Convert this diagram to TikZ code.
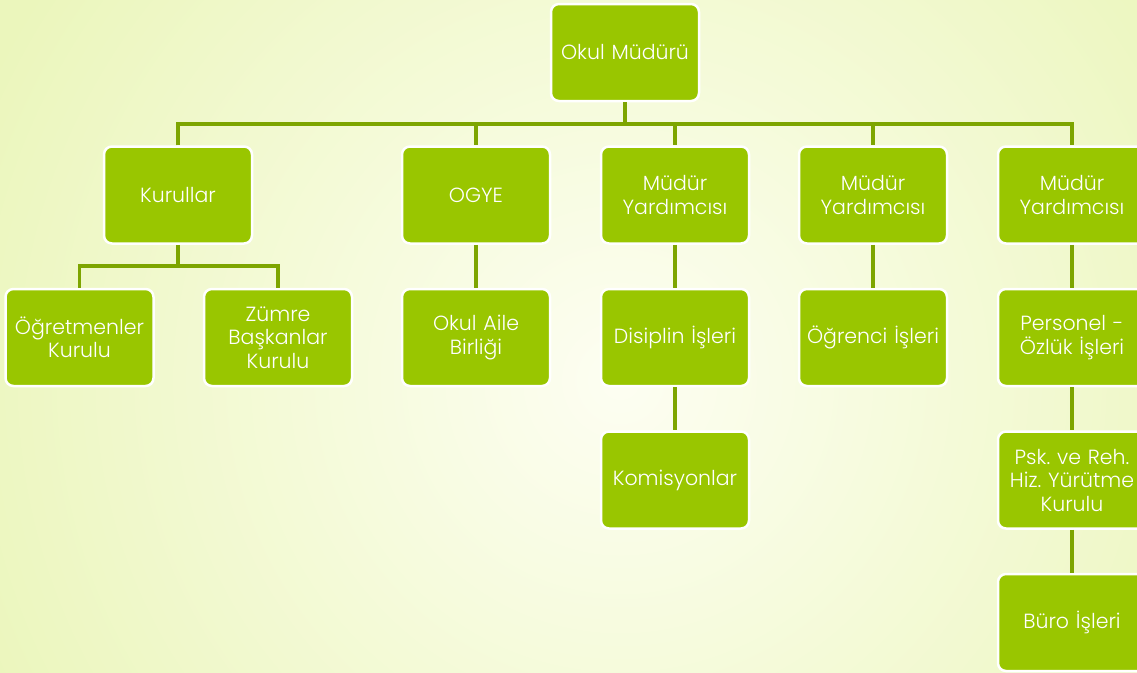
\documentclass[tikz,border=0pt]{standalone}
\usepackage{fontspec}
\setmainfont{Poppins}[UprightFont=* Light]
\frenchspacing
\definecolor{boxgreen}{HTML}{99C600}
\definecolor{linegreen}{HTML}{7DA500}
\definecolor{bgouter}{HTML}{EBF6BC}
\definecolor{bginner}{HTML}{FDFEF2}
\tikzset{
  orgbox/.style={draw=white, line width=2.5pt, fill=boxgreen, rounded corners=8pt,
    minimum width=148pt, minimum height=97pt, text width=146pt, align=center,
    text=white, font=\fontsize{20.5}{23.5}\selectfont, inner sep=0pt},
  conn/.style={draw=linegreen, line width=3.2pt}
}
\begin{document}
\begin{tikzpicture}[x=1pt,y=-1pt]
\useasboundingbox (0,0) rectangle (1137,672);
\clip (0,0) rectangle (1137,672);
\fill[bgouter] (0,0) rectangle (1137,672);
\shade[inner color=bginner, outer color=bgouter] (620,380) circle (700);
% nodes
\node[orgbox] (om) at (625,52.5) {Okul Müdürü};
\node[orgbox] (kur) at (178,195) {Kurullar};
\node[orgbox] (ogye) at (476,195) {OGYE};
\node[orgbox] (my1) at (675,195) {Müdür\\Yardımcısı};
\node[orgbox] (my2) at (873,195) {Müdür\\Yardımcısı};
\node[orgbox] (my3) at (1072,195) {Müdür\\Yardımcısı};
\node[orgbox] (ogk) at (79.5,337.5) {Öğretmenler\\Kurulu};
\node[orgbox] (zbk) at (278,337.5) {Zümre\\Başkanlar\\Kurulu};
\node[orgbox] (oab) at (476,337.5) {Okul Aile\\Birliği};
\node[orgbox] (dis) at (675,337.5) {Disiplin İşleri};
\node[orgbox] (ogr) at (873,337.5) {Öğrenci İşleri};
\node[orgbox] (per) at (1072,337.5) {Personel -\\Özlük İşleri};
\node[orgbox] (kom) at (675,480) {Komisyonlar};
\node[orgbox] (psk) at (1072,480) {Psk. ve Reh.\\Hiz. Yürütme\\Kurulu};
\node[orgbox] (buro) at (1072,622.5) {Büro İşleri};
% connectors
\coordinate (bar) at (625,124);
\draw[conn] (om.south) -- (bar);
\draw[conn] (kur.north) |- (bar) -| (my3.north);
\draw[conn] (bar) -| (ogye.north);
\draw[conn] (bar) -| (my1.north);
\draw[conn] (bar) -| (my2.north);
\coordinate (kbar) at (178,266);
\draw[conn] (kur.south) -- (kbar);
\draw[conn] (ogk.north) |- (kbar) -| (zbk.north);
\draw[conn] (ogye.south) -- (oab.north);
\draw[conn] (my1.south) -- (dis.north);
\draw[conn] (dis.south) -- (kom.north);
\draw[conn] (my2.south) -- (ogr.north);
\draw[conn] (my3.south) -- (per.north);
\draw[conn] (per.south) -- (psk.north);
\draw[conn] (psk.south) -- (buro.north);
\end{tikzpicture}
\end{document}
